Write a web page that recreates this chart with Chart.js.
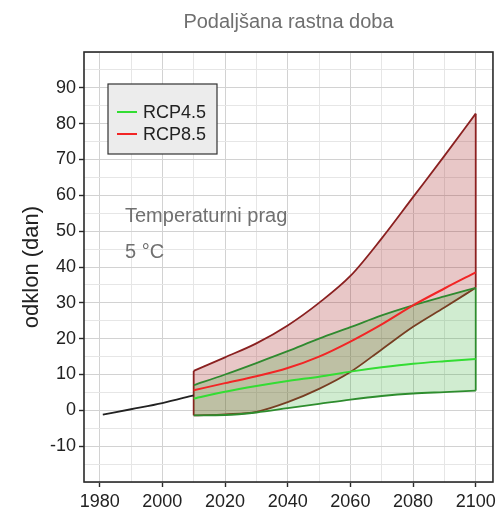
<!DOCTYPE html>
<html>
<head>
<meta charset="utf-8">
<script src="https://cdn.jsdelivr.net/npm/chart.js@4.4.0/dist/chart.umd.min.js"></script>
<style>
  html, body { margin: 0; padding: 0; background: #fff; }
</style>
</head>
<body>
<canvas id="myChart" width="500" height="509"></canvas>
<script>
var FONT = '"Liberation Sans", Arial, sans-serif';

// chart text
var titleText = 'Podaljšana rastna doba';
var yAxisTitle = 'odklon (dan)';
var noteLines = ['Temperaturni prag', '5 °C'];
var seriesNames = ['RCP4.5', 'RCP8.5'];

// observed period
var histYears = [1981, 1990, 2000, 2010];
var histValues = [-1.2, 0.3, 2.0, 4.2];

// projections, every 10 years
var years = [2010, 2020, 2030, 2040, 2050, 2060, 2070, 2080, 2090, 2100];
var rcp45Low = [-1.4, -1.3, -0.6, 0.6, 1.8, 3.0, 4.0, 4.7, 5.1, 5.5];
var rcp45Mid = [3.3, 5.2, 6.8, 8.2, 9.4, 10.8, 12.0, 13.0, 13.7, 14.3];
var rcp45High = [7.0, 10.0, 13.2, 16.5, 20.0, 23.2, 26.5, 29.3, 31.8, 34.2];
var rcp85Low = [-1.4, -1.1, -0.4, 2.3, 6.0, 10.7, 17.0, 23.3, 28.7, 34.2];
var rcp85Mid = [5.6, 7.6, 9.5, 11.8, 15.0, 19.2, 24.0, 29.3, 34.0, 38.5];
var rcp85High = [11.0, 14.8, 18.7, 23.7, 30.0, 37.5, 48.0, 59.5, 71.0, 82.8];

var green = '#33dd33', darkGreen = '#2f8a2f', red = '#f22525', darkRed = '#8a2020';

function pts(xs, ys) {
  return xs.map(function (x, i) { return { x: x, y: ys[i] }; });
}

function curve(data, color, width, fill, bg) {
  return {
    data: data,
    borderColor: color,
    borderWidth: width,
    pointRadius: 0,
    cubicInterpolationMode: 'monotone',
    fill: fill || false,
    backgroundColor: bg || 'transparent'
  };
}

// vertical closing edge of a band at one year
function edge(i, low, high, color) {
  return {
    data: [{ x: years[i], y: low[i] }, { x: years[i], y: high[i] }],
    borderColor: color,
    borderWidth: 1.8,
    pointRadius: 0,
    fill: false
  };
}

var last = years.length - 1;

var overlay = {
  id: 'overlay',
  afterDraw: function (chart) {
    var c = chart.ctx, a = chart.chartArea;
    c.save();
    // title
    c.fillStyle = '#6f6f6f';
    c.font = '20px ' + FONT;
    c.textAlign = 'center';
    c.textBaseline = 'middle';
    c.fillText(titleText, (a.left + a.right) / 2, 22);

    // threshold note
    c.textAlign = 'left';
    c.fillStyle = '#707070';
    c.fillText(noteLines[0], a.left + 41, 216);
    c.fillText(noteLines[1], a.left + 41, 252);

    // legend box
    c.fillStyle = '#ececec';
    c.strokeStyle = '#333';
    c.lineWidth = 1.2;
    c.fillRect(a.left + 24, a.top + 32, 109, 70);
    c.strokeRect(a.left + 24, a.top + 32, 109, 70);
    var cols = [green, red];
    c.font = '18px ' + FONT;
    c.fillStyle = '#222';
    for (var i = 0; i < seriesNames.length; i++) {
      var y = a.top + 60 + i * 22;
      c.strokeStyle = cols[i];
      c.lineWidth = 2;
      c.beginPath();
      c.moveTo(a.left + 33, y);
      c.lineTo(a.left + 53, y);
      c.stroke();
      c.fillText(seriesNames[i], a.left + 59, y + 1);
    }

    // plot frame
    c.strokeStyle = '#2a2a2a';
    c.lineWidth = 1.6;
    c.strokeRect(a.left, a.top, a.right - a.left, a.bottom - a.top);
    c.restore();
  }
};

function showY(v) { return v % 10 === 0 && v >= -10 && v <= 90; }
function showX(v) { return v % 20 === 0; }

var ctx = document.getElementById('myChart').getContext('2d');
var chart = new Chart(ctx, {
  type: 'line',
  data: {
    datasets: [
      curve(pts(years, rcp85Mid), red, 2),
      curve(pts(years, rcp45Mid), green, 2),
      curve(pts(histYears, histValues), '#222', 1.8),
      curve(pts(years, rcp45High), darkGreen, 1.8, '+1', 'rgba(40,170,40,0.22)'),
      curve(pts(years, rcp45Low), darkGreen, 1.8),
      curve(pts(years, rcp85High), darkRed, 1.8, '+1', 'rgba(165,40,40,0.26)'),
      curve(pts(years, rcp85Low), darkRed, 1.8),
      edge(last, rcp45Low, rcp45High, darkGreen),
      edge(0, rcp85Low, rcp85High, darkRed),
      edge(last, rcp85Low, rcp85High, darkRed)
    ]
  },
  options: {
    responsive: false,
    animation: false,
    layout: { padding: { top: 52, right: 6, left: 0, bottom: 0 } },
    plugins: {
      legend: { display: false },
      tooltip: { enabled: false }
    },
    scales: {
      x: {
        type: 'linear',
        min: 1975,
        max: 2105.5,
        afterFit: function (s) { s.height = 27; },
        ticks: {
          stepSize: 10,
          includeBounds: false,
          autoSkip: false,
          maxRotation: 0,
          padding: 4,
          color: '#222',
          font: { size: 18, family: FONT },
          callback: function (v) { return showX(v) ? String(v) : ''; }
        },
        grid: {
          tickLength: 5,
          color: function (c) { return c.tick && showX(c.tick.value) ? '#d2d2d2' : '#e6e6e6'; },
          tickColor: function (c) { return c.tick && showX(c.tick.value) ? '#2a2a2a' : 'rgba(0,0,0,0)'; },
          tickWidth: 1.4
        },
        border: { display: false }
      },
      y: {
        min: -20,
        max: 100,
        afterFit: function (s) { s.width = 84; },
        title: {
          display: true,
          text: yAxisTitle,
          color: '#222',
          font: { size: 22, family: FONT },
          padding: { top: 19, bottom: 0 }
        },
        ticks: {
          stepSize: 5,
          includeBounds: false,
          autoSkip: false,
          padding: 3,
          color: '#222',
          font: { size: 18, family: FONT },
          callback: function (v) { return showY(v) ? String(v) : ''; }
        },
        grid: {
          tickLength: 5,
          color: function (c) { return c.tick && c.tick.value % 10 === 0 ? '#d2d2d2' : '#e6e6e6'; },
          tickColor: function (c) { return c.tick && showY(c.tick.value) ? '#2a2a2a' : 'rgba(0,0,0,0)'; },
          tickWidth: 1.4
        },
        border: { display: false }
      }
    }
  },
  plugins: [overlay]
});
</script>
</body>
</html>
